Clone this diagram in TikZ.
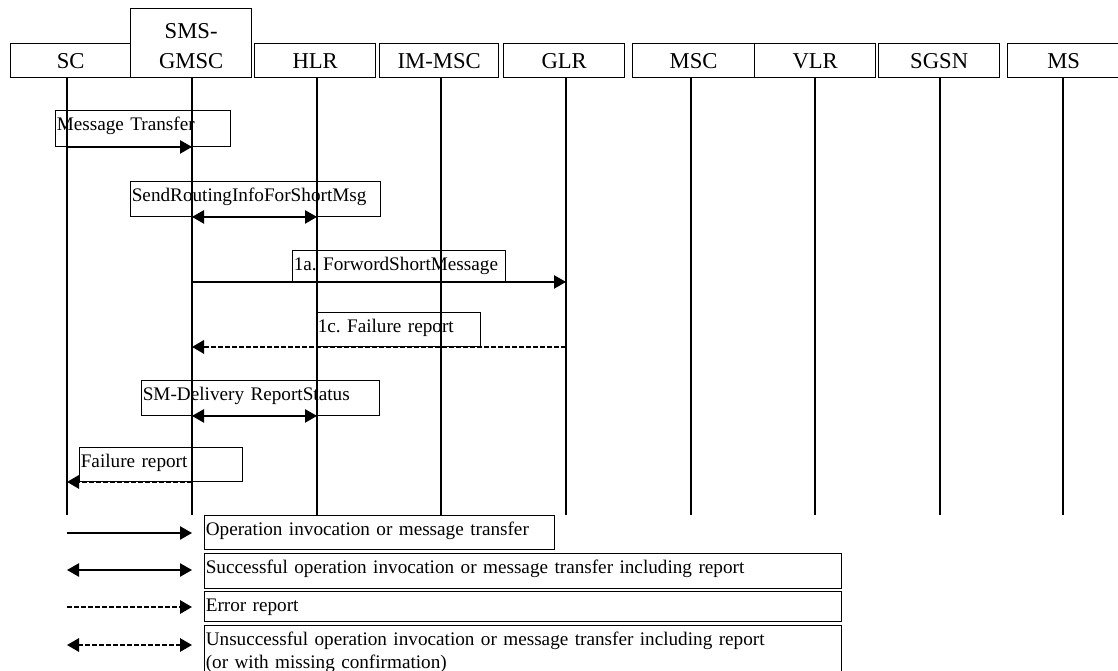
\documentclass[tikz,border=0pt]{standalone}
\usepackage{fontspec}
\setmainfont{Liberation Serif}
\usetikzlibrary{arrows.meta}
\frenchspacing

\begin{document}
\begin{tikzpicture}[
    x=0.75pt, y=-0.75pt,
    >={Triangle[length=9pt, width=10pt]},
    every node/.style={font=\fontsize{14.4}{17.25}\selectfont},
    entity/.style={draw, line width=1pt, inner sep=0pt, minimum height=25.5pt,
                   anchor=north west, text height=12pt, text depth=0pt, align=center,
                   font=\fontsize{17}{22.5}\selectfont},
    lifeline/.style={line width=0.8pt},
    msgbox/.style={draw, line width=0.7pt, anchor=north west, inner xsep=1pt,
                   inner ysep=0pt, text height=15pt, align=left},
    msg/.style={->, line width=1.1pt},
    ack/.style={<->, line width=1.1pt},
    err/.style={->, line width=1.6pt, dash pattern=on 3.5pt off 1.75pt},
    nack/.style={<->, line width=1.6pt, dash pattern=on 3.5pt off 1.75pt},
]
\useasboundingbox (0,0) rectangle (1118,671);
% entities
\node[entity, minimum width=90pt] (n_sc) at (10,43) {SC};
\node[entity, minimum width=90.75pt, minimum height=51.75pt, text height=38.25pt] (n_gmsc) at (130,8) {SMS-\\GMSC};
\node[entity, minimum width=90.75pt] (n_hlr) at (254,43) {HLR};
\node[entity, minimum width=89.25pt] (n_immsc) at (379,43) {IM-MSC};
\node[entity, minimum width=90.75pt] (n_glr) at (503,43) {GLR};
\node[entity, minimum width=91.5pt] (n_msc) at (632,43) {MSC};
\node[entity, minimum width=90.75pt] (n_vlr) at (754,43) {VLR};
\node[entity, minimum width=90.75pt] (n_sgsn) at (878,43) {SGSN};
\node[entity, minimum width=84pt] (n_ms) at (1007,43) {MS};
% lifelines
\coordinate (sc) at (67,77);
\coordinate (gmsc) at (192,77);
\coordinate (hlr) at (317,77);
\coordinate (immsc) at (441,77);
\coordinate (glr) at (566,77);
\coordinate (msc) at (691,77);
\coordinate (vlr) at (815,77);
\coordinate (sgsn) at (940,77);
\coordinate (ms) at (1063,77);
\coordinate (life_end) at (0,515);
\draw[lifeline] (sc) -- (sc |- life_end);
\draw[lifeline] (gmsc) -- (gmsc |- life_end);
\draw[lifeline] (hlr) -- (hlr |- life_end);
\draw[lifeline] (immsc) -- (immsc |- life_end);
\draw[lifeline] (glr) -- (glr |- life_end);
\draw[lifeline] (msc) -- (msc |- life_end);
\draw[lifeline] (vlr) -- (vlr |- life_end);
\draw[lifeline] (sgsn) -- (sgsn |- life_end);
\draw[lifeline] (ms) -- (ms |- life_end);
% messages
\node[msgbox, text width=129.25pt, text depth=12pt] (m_1) at (55,110) {Message Transfer};
\node[msgbox, text width=185.5pt, text depth=11.25pt] (m_2) at (130,181) {SendRoutingInfoForShortMsg};
\node[msgbox, text width=157.75pt, text depth=8.25pt] (m_3) at (292,250) {1a. ForwordShortMessage};
\node[msgbox, text width=121pt, text depth=10.5pt] (m_4) at (316,312) {1c. Failure report};
\node[msgbox, text width=176.5pt, text depth=11.25pt] (m_5) at (141,380) {SM-Delivery ReportStatus};
\node[msgbox, text width=120.25pt, text depth=10.5pt] (m_6) at (79,447) {Failure report};
\draw[msg] (m_1.south -| sc) -- (m_1.south -| gmsc);
\draw[ack] (m_2.south -| gmsc) -- (m_2.south -| hlr);
\draw[msg] (m_3.south -| gmsc) -- (m_3.south -| glr);
\draw[err] (m_4.south -| glr) -- (m_4.south -| gmsc);
\draw[ack] (m_5.south -| gmsc) -- (m_5.south -| hlr);
\draw[err] (m_6.south -| gmsc) -- (m_6.south -| sc);
% legend
\node[msgbox, text width=260.5pt, text depth=10.5pt] (k_1) at (204,515) {Operation invocation or message transfer};
\node[msgbox, text width=475.75pt, text depth=11.25pt] (k_2) at (204,553) {Successful operation invocation or message transfer including report};
\node[msgbox, text width=475.75pt, text depth=7.5pt] (k_3) at (204,591) {Error report};
\node[msgbox, text width=475.75pt, text depth=30pt] (k_4) at (204,625) {Unsuccessful operation invocation or message transfer including report\\(or with missing confirmation)};
\coordinate (key_1) at (0,533);
\coordinate (key_2) at (0,570);
\coordinate (key_3) at (0,607);
\coordinate (key_4) at (0,645);
\draw[msg] (key_1 -| sc) -- (key_1 -| gmsc);
\draw[ack] (key_2 -| sc) -- (key_2 -| gmsc);
\draw[err] (key_3 -| sc) -- (key_3 -| gmsc);
\draw[nack] (key_4 -| sc) -- (key_4 -| gmsc);
\end{tikzpicture}
\end{document}
